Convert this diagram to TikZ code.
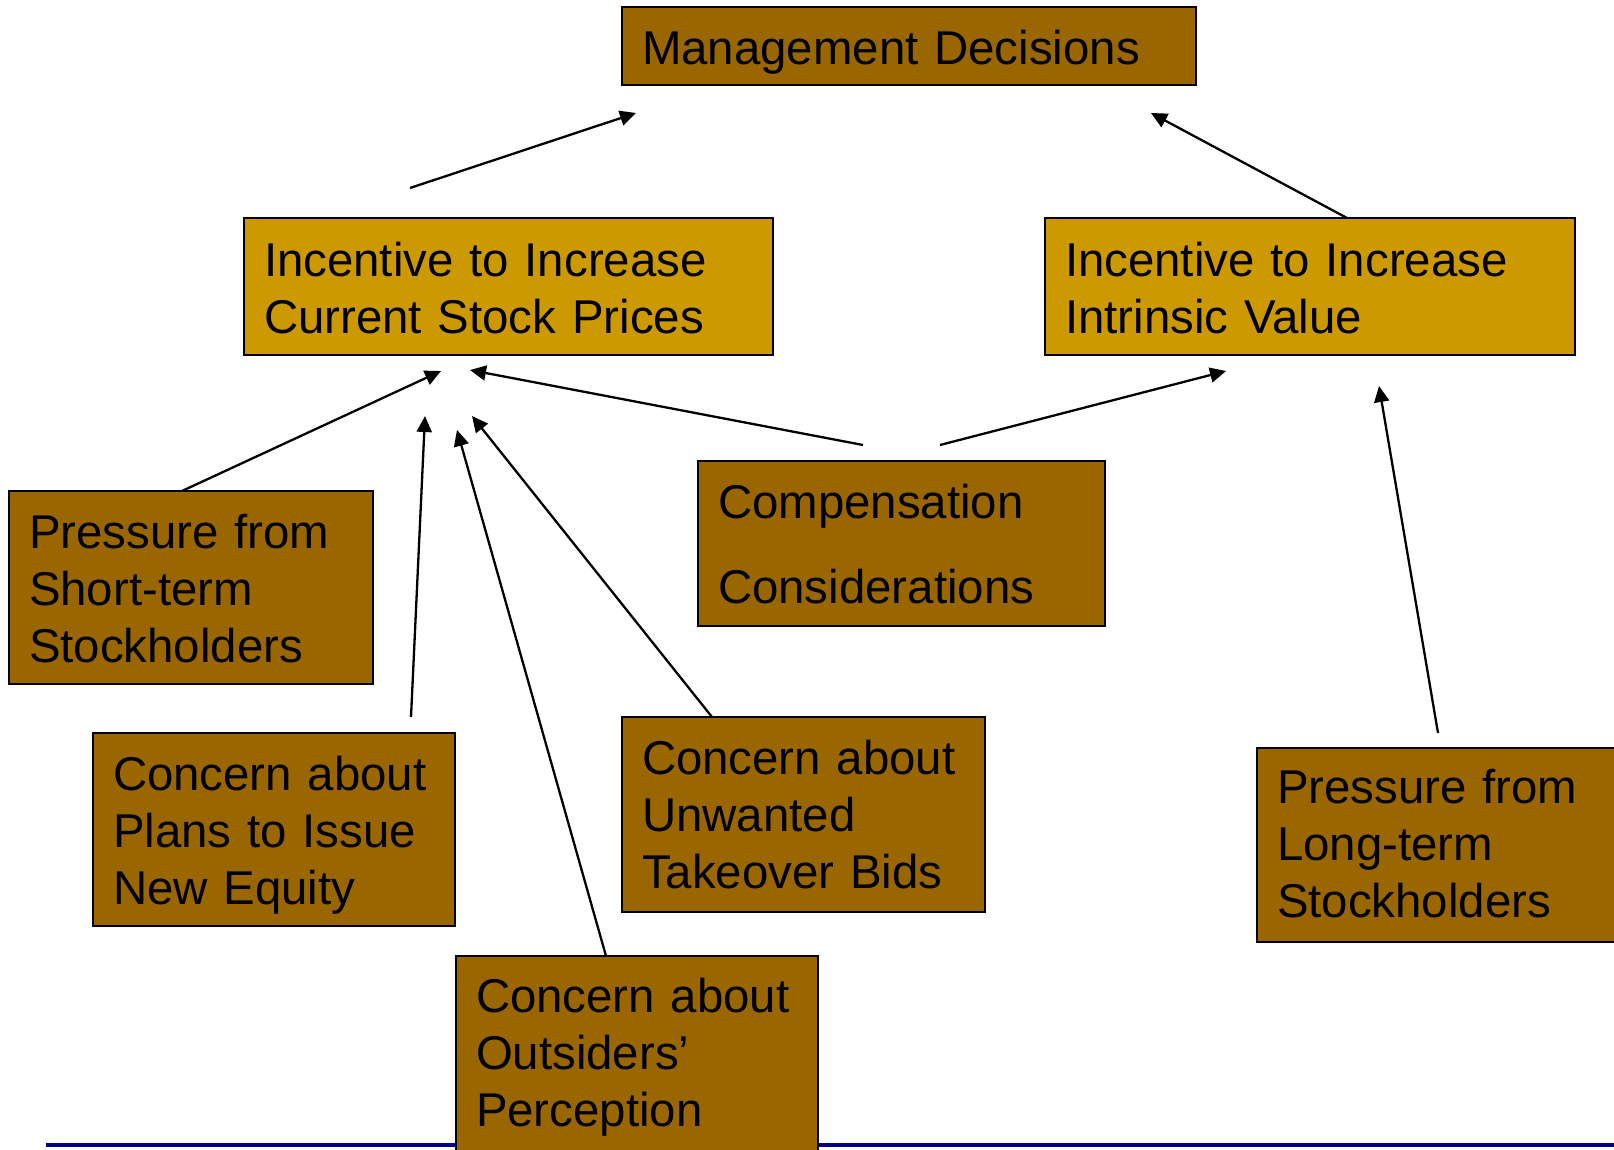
\documentclass[tikz,border=0pt]{standalone}
\usepackage{fontspec}
\setmainfont{Liberation Sans}
\usetikzlibrary{arrows.meta, positioning, calc}

\definecolor{boxbrown}{HTML}{996600}
\definecolor{boxgold}{HTML}{CC9900}
\definecolor{rulenavy}{RGB}{0,0,140}

\begin{document}
\begin{tikzpicture}[
    x=1pt, y=-1pt,
    % Define styles for the boxes (text hangs from its first baseline)
    base_box/.style={rectangle, draw=black, line width=1.6pt, anchor=north west, align=left,
        inner xsep=20pt, inner ysep=0pt, outer sep=0pt,
        font=\fontsize{47.4}{57.1}\selectfont},
    factor_box/.style={base_box, fill=boxbrown},
    goal_box/.style={base_box, fill=boxgold},
    % Styles for arrows
    arrow/.style={-{Triangle[length=16pt, width=15pt]}, line width=2.3pt}
]
    \useasboundingbox (0,0) rectangle (1614,1149);
    \clip (0,0) rectangle (1614,1149);

    % =========================================================================
    % FOOTER RULE
    % =========================================================================
    \draw[rulenavy, line width=4pt] (46,1145) -- (1614,1145);

    % =========================================================================
    % TOP LEVEL
    % =========================================================================
    \node (mgmt) [factor_box, text width=534pt, text height=57pt, text depth=21pt] at (622,7)
        {Management Decisions};

    \node (inc_price) [goal_box, text width=489pt, text height=58pt, text depth=79pt] at (244,218)
        {Incentive to Increase\\Current Stock Prices};
    \node (inc_value) [goal_box, text width=490pt, text height=58pt, text depth=79pt] at (1045,218)
        {Incentive to Increase\\Intrinsic Value};

    % =========================================================================
    % INFLUENCING FACTORS
    % =========================================================================
    \node (short_term) [factor_box, text width=324pt, text height=57pt, text depth=136pt] at (9,491)
        {Pressure from\\Short-term\\Stockholders};
    \node (comp) [factor_box, text width=367pt, text height=57pt, text depth=108pt] at (698,461)
        {Compensation\\[28pt]Considerations};
    \node (new_equity) [factor_box, text width=322pt, text height=57pt, text depth=136pt] at (93,733)
        {Concern about\\Plans to Issue\\New Equity};
    \node (takeover) [factor_box, text width=323pt, text height=57pt, text depth=138pt] at (622,717)
        {Concern about\\Unwanted\\Takeover Bids};
    \node (long_term) [factor_box, text width=333pt, text height=55pt, text depth=139pt] at (1257,748)
        {Pressure from\\Long-term\\Stockholders};
    \node (outsiders) [factor_box, text width=322pt, text height=56pt, text depth=158pt] at (456,956)
        {Concern about\\Outsiders’\\Perception};

    % =========================================================================
    % ARROWS (tips stop short of the boxes)
    % =========================================================================
    \coordinate (tip_mgmt_l) at (636,113);
    \coordinate (tip_mgmt_r) at (1151,113);
    \coordinate (tip_short) at (441,371);
    \coordinate (tip_comp_l) at (470,370);
    \coordinate (tip_comp_r) at (1226,371);
    \coordinate (tip_equity) at (425,416);
    \coordinate (tip_outsiders) at (457,430);
    \coordinate (tip_takeover) at (472,416);
    \coordinate (tip_long) at (1379,386);

    \draw [arrow] ([xshift=166pt, yshift=30pt]inc_price.north west) -- (tip_mgmt_l);
    \draw [arrow] ([xshift=302pt]inc_value.north west) -- (tip_mgmt_r);

    \draw [arrow] ([xshift=173pt]short_term.north west) -- (tip_short);
    \draw [arrow] ([xshift=165pt, yshift=16pt]comp.north west) -- (tip_comp_l);
    \draw [arrow] ([xshift=242pt, yshift=16pt]comp.north west) -- (tip_comp_r);
    \draw [arrow] ([xshift=318pt, yshift=16pt]new_equity.north west) -- (tip_equity);
    \draw [arrow] ([xshift=150pt]outsiders.north west) -- (tip_outsiders);
    \draw [arrow] ([xshift=90pt]takeover.north west) -- (tip_takeover);
    \draw [arrow] ([xshift=181pt, yshift=15pt]long_term.north west) -- (tip_long);

\end{tikzpicture}
\end{document}
